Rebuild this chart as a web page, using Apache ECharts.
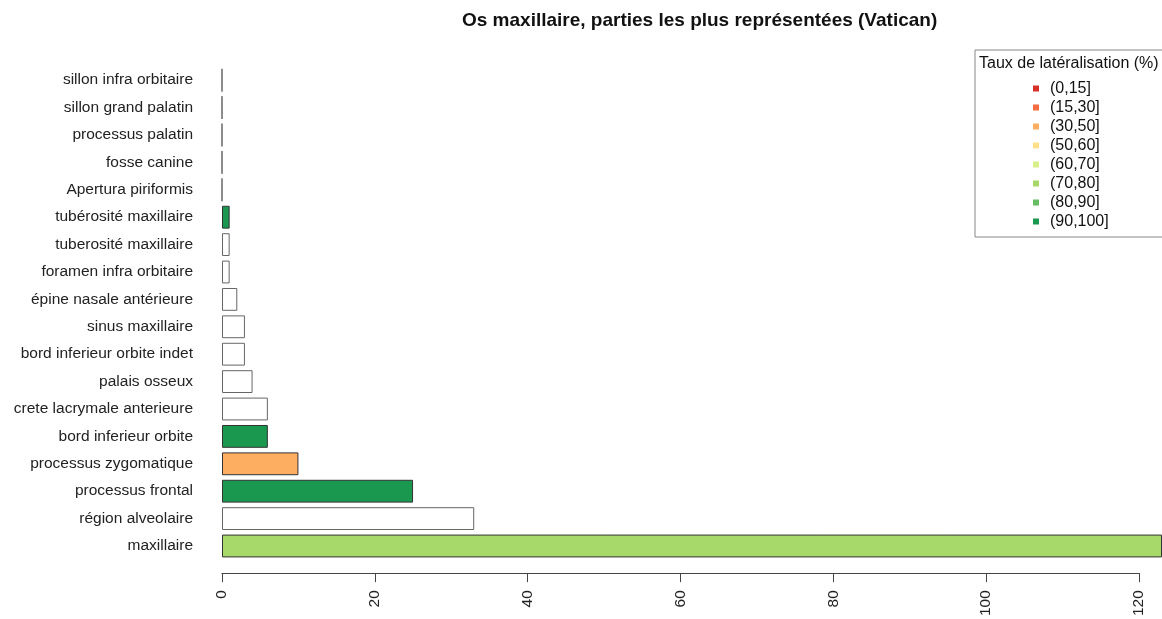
<!DOCTYPE html>
<html>
<head>
<meta charset="utf-8">
<script src="https://cdn.jsdelivr.net/npm/echarts@6/dist/echarts.min.js"></script>
<style>
html,body{margin:0;padding:0;background:#fff;}
#chart{width:1162px;height:619px;}
</style>
</head>
<body>
<div id="chart"></div>
<script>
// Categories from bottom to top
var categories = [
  "maxillaire", "région alveolaire", "processus frontal", "processus zygomatique",
  "bord inferieur orbite", "crete lacrymale anterieure", "palais osseux",
  "bord inferieur orbite indet", "sinus maxillaire", "épine nasale antérieure",
  "foramen infra orbitaire", "tuberosité maxillaire", "tubérosité maxillaire",
  "Apertura piriformis", "fosse canine", "processus palatin",
  "sillon grand palatin", "sillon infra orbitaire"
];
var values = [123, 33, 25, 10, 6, 6, 4, 3, 3, 2, 1, 1, 1, 0, 0, 0, 0, 0];
// index into legend classes, -1 = no class (white bar)
var classIndex = [5, -1, 7, 2, 7, -1, -1, -1, -1, -1, -1, -1, 7, -1, -1, -1, -1, -1];
var legendClasses = ["(0,15]", "(15,30]", "(30,50]", "(50,60]", "(60,70]", "(70,80]", "(80,90]", "(90,100]"];
var legendColors = ["#d73027", "#f46d43", "#fdae61", "#fee08b", "#d9ef8b", "#a6d96a", "#66bd63", "#1a9850"];
var xTicks = [0, 20, 40, 60, 80, 100, 120];

var FONT = "Liberation Sans, Arial, sans-serif";

var barData = values.map(function (v, i) {
  var c = classIndex[i];
  return {
    value: v,
    itemStyle: c >= 0
      ? { color: legendColors[c], borderColor: "#333", borderWidth: 1 }
      : { color: "#ffffff", borderColor: "#666", borderWidth: 1 }
  };
});

var series = [{
  type: "bar",
  xAxisIndex: 0,
  yAxisIndex: 0,
  data: barData,
  barCategoryGap: "16.7%",
  silent: true,
  clip: true
}];
legendClasses.forEach(function (name, i) {
  series.push({
    type: "scatter",
    name: name,
    xAxisIndex: 1,
    yAxisIndex: 1,
    data: [],
    itemStyle: { color: legendColors[i], opacity: 1 }
  });
});

var chart = echarts.init(document.getElementById("chart"), null, { renderer: "canvas" });
chart.setOption({
  animation: false,
  backgroundColor: "#ffffff",
  title: [
    {
      text: "Os maxillaire, parties les plus représentées (Vatican)",
      left: 457,
      top: 6,
      textStyle: { fontFamily: FONT, fontSize: 19, fontWeight: "bold", color: "#111" }
    },
    {
      text: "Taux de latéralisation (%)",
      left: 979,
      top: 56,
      padding: 0,
      textStyle: { fontFamily: FONT, fontSize: 16, fontWeight: "normal", color: "#111" }
    }
  ],
  legend: {
    orient: "vertical",
    left: 975,
    top: 50,
    padding: [29, 90, 6, 58],
    borderColor: "#888",
    borderWidth: 1,
    icon: "rect",
    itemWidth: 6,
    itemHeight: 6,
    itemGap: 0,
    selectedMode: false,
    data: legendClasses,
    itemStyle: { opacity: 1 },
    textStyle: { fontFamily: FONT, fontSize: 16, color: "#111", lineHeight: 19, padding: [0, 0, 0, 6] }
  },
  grid: [
    { left: 222, right: 0, top: 66.5, bottom: 59.3 },
    { left: 222, right: 23, top: 66.5, bottom: 59.3 }
  ],
  xAxis: [
    { gridIndex: 0, type: "value", min: 0, max: 123, show: false },
    {
      gridIndex: 1, type: "value", min: 0, max: 120, interval: 20,
      offset: 18.3,
      axisLine: { show: true, lineStyle: { color: "#444", width: 1 } },
      axisTick: { show: true, length: 9, lineStyle: { color: "#444" } },
      splitLine: { show: false },
      axisLabel: {
        rotate: 90, margin: 17, fontFamily: FONT, fontSize: 15.5, color: "#222",
        formatter: function (v) { return xTicks.indexOf(v) >= 0 ? String(v) : ""; }
      }
    }
  ],
  yAxis: [
    {
      gridIndex: 0, type: "category", data: categories,
      axisLine: { show: false }, axisTick: { show: false }, splitLine: { show: false },
      axisLabel: { margin: 29, fontFamily: FONT, fontSize: 15.5, color: "#222", interval: 0 }
    },
    { gridIndex: 1, type: "category", data: categories, show: false }
  ],
  series: series
});
</script>
</body>
</html>
